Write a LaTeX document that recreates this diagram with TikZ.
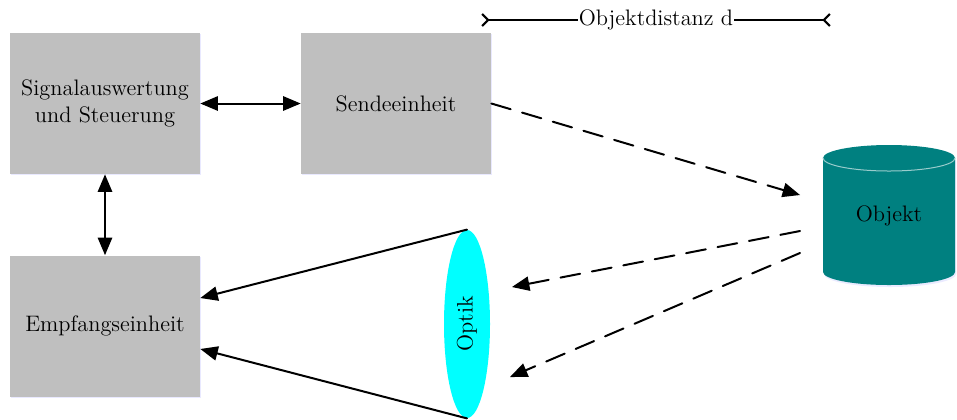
\documentclass[tikz,border=0pt]{standalone}
\usepackage{tikz}
\usetikzlibrary{arrows}
\usetikzlibrary{arrows.meta}
\usetikzlibrary{positioning}
\usetikzlibrary{shapes.geometric}
\usetikzlibrary{shadows}
\definecolor{linse}{RGB}{0,255,255}
\definecolor{objekt}{RGB}{0,128,128}

\begin{document}
\begin{tikzpicture}[line cap=round,line join=round,>=triangle 45,x=0.5pt,y=-0.5pt,
  every node/.style={font=\fontsize{11.2}{13.6}\selectfont},
  block/.style={fill=black!25,minimum width=95pt,minimum height=70.5pt,align=center,
    drop shadow={fill=blue!25,opacity=0.35,shadow xshift=0.6pt,shadow yshift=-0.6pt}},
  pfeil/.style={line width=1pt},
  strahl/.style={line width=1pt,dash pattern=on 10pt off 6pt},
  mass/.style={line width=1.1pt,{Straight Barb[reversed,length=3pt,width=6pt]}-{Straight Barb[reversed,length=3pt,width=6pt]}}]
\useasboundingbox (0,0) rectangle (957,419);
% Bloecke
\node[block] (sig) at (105,103.5) {Signalauswertung\\und Steuerung};
\node[block] (send) at (396,103.5) {Sendeeinheit};
\node[block] (emp) at (105,326) {Empfangseinheit};
\draw[pfeil,<->] (sig.east) -- (send.west);
\draw[pfeil,<->] (sig.south) -- (emp.north);
% Objekt (Zylinder)
\fill[blue!20,opacity=0.4] (824,160) -- (824,274) arc[start angle=180,end angle=0,x radius=66,y radius=13] -- (956,160) -- cycle;
\fill[objekt] (823,158) -- (823,272) arc[start angle=180,end angle=0,x radius=66,y radius=13]
  -- (955,158) arc[start angle=0,end angle=-180,x radius=66,y radius=13] -- cycle;
\draw[objekt!40!white,line width=0.5pt] (823,158) arc[start angle=180,end angle=0,x radius=66,y radius=13];
\node (obj) at (889,216) {Objekt};
% Optik
\node[ellipse,fill=linse,minimum width=23pt,minimum height=94pt] (opt) at (467,324) {};
\node[rotate=90] at (opt.center) {Optik};
\draw[pfeil,->] (opt.north) -- ([yshift=14pt]emp.east);
\draw[pfeil,->] (opt.south) -- ([yshift=-11.5pt]emp.east);
% Strahlengang
\coordinate (hin) at (800,195);
\coordinate (rueck1) at (800,231);
\coordinate (rueck2) at (800,253);
\coordinate (ein1) at (512,287);
\coordinate (ein2) at (510,377);
\draw[strahl,->] (send.east) -- (hin);
\draw[strahl,->] (rueck1) -- (ein1);
\draw[strahl,->] (rueck2) -- (ein2);
% Objektdistanz
\coordinate (dl) at (481,20);
\coordinate (dr) at (831,20);
\draw[mass] (dl) -- (dr) node[midway,fill=white,inner sep=0.5pt] (dist) {Objektdistanz d};
\end{tikzpicture}
\end{document}
